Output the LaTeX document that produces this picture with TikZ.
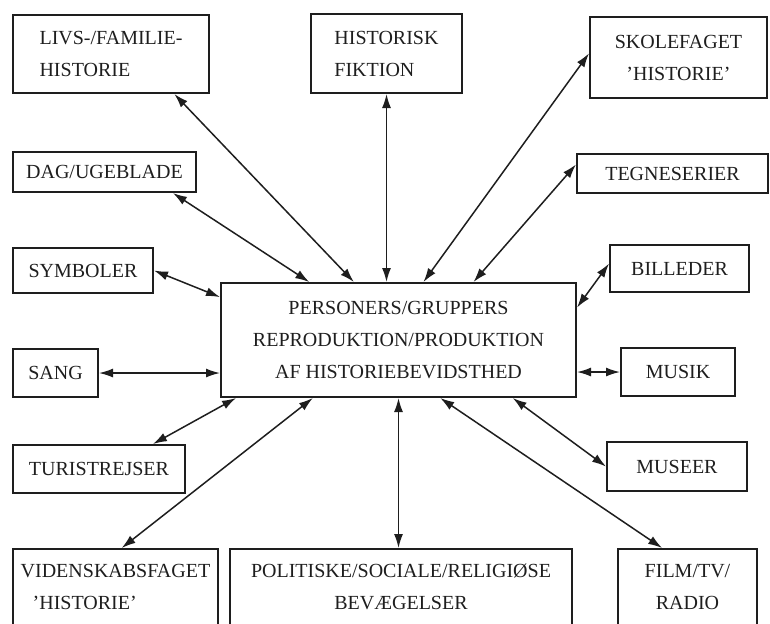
\documentclass[tikz,border=0pt]{standalone}
\usepackage{fontspec}
\setmainfont{Liberation Serif}
\usetikzlibrary{arrows.meta, calc}
\definecolor{Ink}{HTML}{1E1E1E}

\begin{document}
\begin{tikzpicture}[x=0.5pt, y=-0.5pt,
  box/.style={draw=Ink, line width=1pt, text=Ink, inner sep=2pt,
    font=\fontsize{10}{16}\selectfont, align=center},
  link/.style={{Latex[length=7pt,width=4.5pt]}-{Latex[length=7pt,width=4.5pt]},
    draw=Ink, line width=0.75pt}]
  \useasboundingbox (0,0) rectangle (770,623);
  \clip (0,0) rectangle (770,623);
  % Centre box
  \node[box, minimum width=177.5pt, minimum height=57pt] (c) at (398.5,340)
    {PERSONERS/GRUPPERS\\REPRODUKTION/PRODUKTION\\AF HISTORIEBEVIDSTHED};
  % Top row
  \node[box, align=left, minimum width=98pt, minimum height=39pt] (livs) at (111,54)
    {LIVS-/FAMILIE-\\HISTORIE};
  \node[box, align=left, minimum width=75.5pt, minimum height=39.5pt] (hist) at (386.5,53.5)
    {HISTORISK\\FIKTION};
  \node[box, minimum width=88.5pt, minimum height=40.5pt] (skole) at (678.5,57.5)
    {SKOLEFAGET\\'HISTORIE'};
  % Left column
  \node[box, minimum width=91.5pt, minimum height=20pt] (dag) at (104.5,172) {DAG/UGEBLADE};
  \node[box, minimum width=70pt, minimum height=22.5pt] (symb) at (83,270.5) {SYMBOLER};
  \node[box, minimum width=42.5pt, minimum height=24pt] (sang) at (55.5,373) {SANG};
  \node[box, minimum width=86pt, minimum height=24pt] (tur) at (99,469) {TURISTREJSER};
  % Right column
  \node[box, minimum width=95.5pt, minimum height=19.5pt] (tegn) at (672.5,173.5) {TEGNESERIER};
  \node[box, minimum width=69.5pt, minimum height=23.5pt] (bill) at (679.5,268.5) {BILLEDER};
  \node[box, minimum width=57pt, minimum height=24pt] (musik) at (678,372) {MUSIK};
  \node[box, minimum width=70pt, minimum height=24.5pt] (mus) at (677,466.5) {MUSEER};
  % Bottom row (cut off by the page edge)
  \node[box, align=left, minimum width=102.5pt, minimum height=38pt] (vid) at (115.5,587)
    {VIDENSKABSFAGET\\\hspace*{6pt}'HISTORIE'};
  \node[box, minimum width=171pt, minimum height=38pt] (pol) at (401,587)
    {POLITISKE/SOCIALE/RELIGIØSE\\BEVÆGELSER};
  \node[box, minimum width=69.5pt, minimum height=38pt] (film) at (687.5,587)
    {FILM/TV/\\RADIO};
  % Arrows to the top side
  \draw[link] ($(livs.south west)!0.82!(livs.south east)$) -- ($(c.north west)!0.375!(c.north east)$);
  \draw[link] (hist.south) -- (hist.south |- c.north);
  \draw[link] ($(skole.north west)!0.45!(skole.south west)$) -- ($(c.north west)!0.57!(c.north east)$);
  \draw[link] ($(dag.south west)!0.87!(dag.south east)$) -- ($(c.north west)!0.25!(c.north east)$);
  \draw[link] ($(tegn.north west)!0.28!(tegn.south west)$) -- ($(c.north west)!0.71!(c.north east)$);
  % Arrows to the sides
  \draw[link] (symb.east) -- ($(c.north west)!0.13!(c.south west)$);
  \draw[link] ($(bill.north west)!0.4!(bill.south west)$) -- ($(c.north east)!0.22!(c.south east)$);
  \draw[link] (sang.east) -- (sang.east -| c.west);
  \draw[link] (musik.west) -- (musik.west -| c.east);
  % Arrows to the bottom side
  \draw[link] ($(tur.north west)!0.81!(tur.north east)$) -- ($(c.south west)!0.045!(c.south east)$);
  \draw[link] ($(vid.north west)!0.53!(vid.north east)$) -- ($(c.south west)!0.26!(c.south east)$);
  \draw[link] (c.south) -- (c.south |- pol.north);
  \draw[link] ($(film.north west)!0.32!(film.north east)$) -- ($(c.south west)!0.617!(c.south east)$);
  \draw[link] (mus.west) -- ($(c.south west)!0.82!(c.south east)$);
\end{tikzpicture}
\end{document}
